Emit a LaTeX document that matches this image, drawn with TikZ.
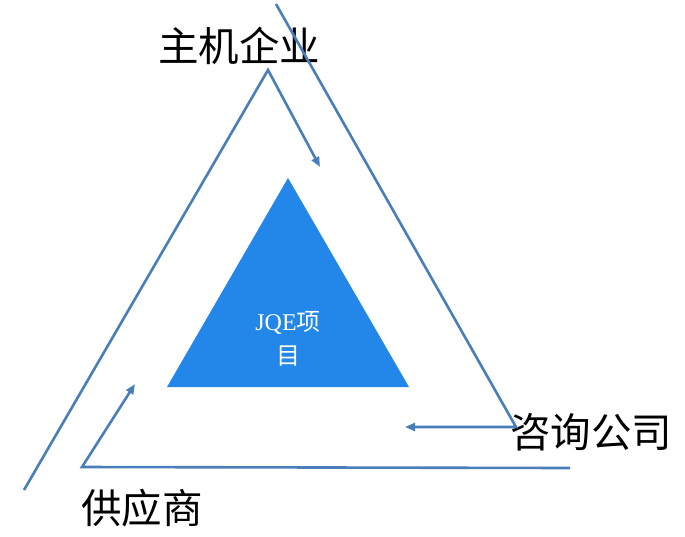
\documentclass[tikz,border=0pt]{standalone}
\usepackage{fontspec}
\setmainfont{Liberation Serif}
\newfontfamily\cjk{Noto Sans CJK SC}
\usetikzlibrary{arrows.meta, positioning}
\definecolor{linkblue}{HTML}{4A7EBB}
\definecolor{projblue}{HTML}{2287E8}

\begin{document}
\begin{tikzpicture}[x=1pt, y=-1pt,
	conn/.style={draw=linkblue, line width=2.6pt, line join=miter},
	flow/.style={conn, -{Triangle[length=10pt, width=8pt]}},
	party/.style={font=\cjk\fontsize{40.5}{40.5}\selectfont, inner sep=0pt}]
	\useasboundingbox (0,0) rectangle (685,536);
	
	% inner project triangle
	\coordinate (p-top) at (288,178);
	\coordinate (p-left) at (167,387);
	\coordinate (p-right) at (409,387);
	\fill[projblue] (p-top) -- (p-left) -- (p-right) -- cycle;
	\node[align=center, text=white, inner sep=0pt,
		font=\fontsize{24}{34}\selectfont] (proj) at (288,339) {JQE{\cjk 项}\\{\cjk 目}};
	
	% the three parties
	\node[party] (host) at (239,46) {主机企业};
	\node[party] (consult) at (591,432) {咨询公司};
	\node[party] (supplier) at (142,508) {供应商};
	
	% host -> project
	\coordinate (h-start) at (24,490);
	\coordinate (h-turn) at (268,70);
	\coordinate (h-end) at (320,167);
	\draw[flow] (h-start) -- (h-turn) -- (h-end);
	
	% consult -> project
	\coordinate (c-start) at (276,4);
	\coordinate (c-turn) at (516,427);
	\coordinate (c-end) at (405,427);
	\draw[flow] (c-start) -- (c-turn) -- (c-end);
	
	% supplier -> project
	\coordinate (s-start) at (570,468);
	\coordinate (s-turn) at (82,467);
	\coordinate (s-end) at (135,384);
	\draw[flow] (s-start) -- (s-turn) -- (s-end);
\end{tikzpicture}
\end{document}
